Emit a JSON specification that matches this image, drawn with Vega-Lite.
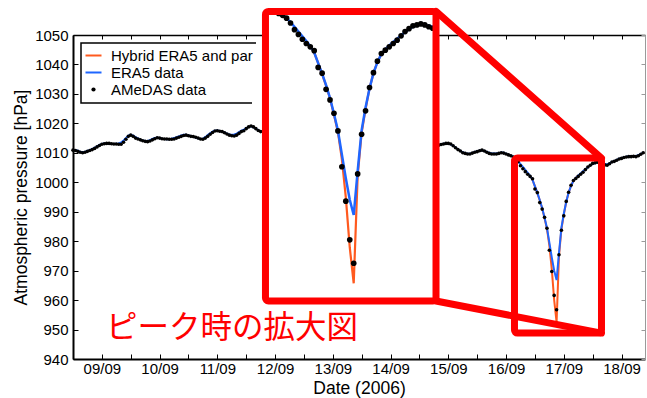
{
  "$schema": "https://vega.github.io/schema/vega-lite/v6.json",
  "width": 572,
  "height": 324,
  "autosize": {"type": "none"},
  "padding": {"left": 73, "top": 35, "right": 2, "bottom": 39},
  "background": "white",
  "config": {
    "font": "Liberation Sans",
    "view": {"stroke": null},
    "axis": {"grid": false, "labelFontSize": 15, "labelColor": "black", "titleFontSize": 17.5, "titleFontWeight": "normal", "titleColor": "black", "tickColor": "black", "domainColor": "black"}
  },
  "data": {
    "format": {"parse": {"t": "date"}},
    "values": [
      {"t":"2006-09-09T00:00","o":1010.9,"e":1011.0},{"t":"2006-09-09T01:00","o":1010.8,"e":1010.9},{"t":"2006-09-09T02:00","o":1010.5,"e":1010.7},{"t":"2006-09-09T03:00","o":1010.2,"e":1010.4},{"t":"2006-09-09T04:00","o":1010.0,"e":1010.3},{"t":"2006-09-09T05:00","o":1010.2,"e":1010.4},{"t":"2006-09-09T06:00","o":1010.5,"e":1010.6},{"t":"2006-09-09T07:00","o":1010.8,"e":1010.9},{"t":"2006-09-09T08:00","o":1011.1,"e":1011.3},{"t":"2006-09-09T09:00","o":1011.5,"e":1011.7},{"t":"2006-09-09T10:00","o":1012.0,"e":1012.2},{"t":"2006-09-09T11:00","o":1012.5,"e":1012.7},{"t":"2006-09-09T12:00","o":1012.9,"e":1013.0},{"t":"2006-09-09T13:00","o":1013.1,"e":1013.2},{"t":"2006-09-09T14:00","o":1013.2,"e":1013.2},{"t":"2006-09-09T15:00","o":1013.2,"e":1013.1},{"t":"2006-09-09T16:00","o":1013.1,"e":1013.0},{"t":"2006-09-09T17:00","o":1013.0,"e":1013.0},{"t":"2006-09-09T18:00","o":1013.0,"e":1013.1},{"t":"2006-09-09T19:00","o":1012.9,"e":1013.2},{"t":"2006-09-09T20:00","o":1012.9,"e":1013.5},{"t":"2006-09-09T21:00","o":1013.6,"e":1014.2},{"t":"2006-09-09T22:00","o":1014.6,"e":1015.0},{"t":"2006-09-09T23:00","o":1015.6,"e":1015.8},
      {"t":"2006-09-10T00:00","o":1016.0,"e":1016.1},{"t":"2006-09-10T01:00","o":1015.6,"e":1015.8},{"t":"2006-09-10T02:00","o":1015.0,"e":1015.3},{"t":"2006-09-10T03:00","o":1014.7,"e":1014.9},{"t":"2006-09-10T04:00","o":1014.4,"e":1014.5},{"t":"2006-09-10T05:00","o":1014.1,"e":1014.2},{"t":"2006-09-10T06:00","o":1013.9,"e":1014.0},{"t":"2006-09-10T07:00","o":1013.8,"e":1014.0},{"t":"2006-09-10T08:00","o":1014.0,"e":1014.3},{"t":"2006-09-10T09:00","o":1014.4,"e":1014.7},{"t":"2006-09-10T10:00","o":1014.8,"e":1015.0},{"t":"2006-09-10T11:00","o":1015.1,"e":1015.1},{"t":"2006-09-10T12:00","o":1015.0,"e":1015.0},{"t":"2006-09-10T13:00","o":1014.8,"e":1014.8},{"t":"2006-09-10T14:00","o":1014.7,"e":1014.7},{"t":"2006-09-10T15:00","o":1014.7,"e":1014.6},{"t":"2006-09-10T16:00","o":1014.6,"e":1014.6},{"t":"2006-09-10T17:00","o":1014.6,"e":1014.8},{"t":"2006-09-10T18:00","o":1014.7,"e":1015.0},{"t":"2006-09-10T19:00","o":1015.0,"e":1015.3},{"t":"2006-09-10T20:00","o":1015.3,"e":1015.6},{"t":"2006-09-10T21:00","o":1015.6,"e":1015.9},{"t":"2006-09-10T22:00","o":1015.9,"e":1016.1},{"t":"2006-09-10T23:00","o":1016.0,"e":1016.1},
      {"t":"2006-09-11T00:00","o":1015.8,"e":1015.9},{"t":"2006-09-11T01:00","o":1015.6,"e":1015.7},{"t":"2006-09-11T02:00","o":1015.5,"e":1015.5},{"t":"2006-09-11T03:00","o":1015.3,"e":1015.2},{"t":"2006-09-11T04:00","o":1015.0,"e":1014.9},{"t":"2006-09-11T05:00","o":1014.7,"e":1014.7},{"t":"2006-09-11T06:00","o":1014.6,"e":1014.8},{"t":"2006-09-11T07:00","o":1015.0,"e":1015.3},{"t":"2006-09-11T08:00","o":1015.6,"e":1016.0},{"t":"2006-09-11T09:00","o":1016.3,"e":1016.6},{"t":"2006-09-11T10:00","o":1016.9,"e":1017.2},{"t":"2006-09-11T11:00","o":1017.4,"e":1017.5},{"t":"2006-09-11T12:00","o":1017.5,"e":1017.6},{"t":"2006-09-11T13:00","o":1017.3,"e":1017.4},{"t":"2006-09-11T14:00","o":1017.2,"e":1017.2},{"t":"2006-09-11T15:00","o":1016.8,"e":1016.9},{"t":"2006-09-11T16:00","o":1016.4,"e":1016.5},{"t":"2006-09-11T17:00","o":1016.0,"e":1016.2},{"t":"2006-09-11T18:00","o":1015.8,"e":1016.1},{"t":"2006-09-11T19:00","o":1015.7,"e":1016.2},{"t":"2006-09-11T20:00","o":1016.0,"e":1016.5},{"t":"2006-09-11T21:00","o":1016.6,"e":1017.0},{"t":"2006-09-11T22:00","o":1017.2,"e":1017.5},{"t":"2006-09-11T23:00","o":1017.5,"e":1017.9},
      {"t":"2006-09-12T00:00","o":1018.2,"e":1018.4},{"t":"2006-09-12T01:00","o":1018.8,"e":1018.8},{"t":"2006-09-12T02:00","o":1019.1,"e":1019.0},{"t":"2006-09-12T03:00","o":1018.8,"e":1018.7},{"t":"2006-09-12T04:00","o":1018.2,"e":1018.2},{"t":"2006-09-12T05:00","o":1017.6,"e":1017.7},{"t":"2006-09-12T06:00","o":1017.2,"e":1017.3},{"t":"2006-09-12T09:00","o":1016.8,"e":1016.9},{"t":"2006-09-12T12:00","o":1016.4,"e":1016.5},{"t":"2006-09-12T15:00","o":1016.0,"e":1016.1},{"t":"2006-09-12T18:00","o":1015.8,"e":1015.9},{"t":"2006-09-12T21:00","o":1015.5,"e":1015.6},
      {"t":"2006-09-13T00:00","o":1015.3,"e":1015.4},{"t":"2006-09-13T03:00","o":1015.0,"e":1015.1},{"t":"2006-09-13T06:00","o":1014.8,"e":1014.9},{"t":"2006-09-13T09:00","o":1014.6,"e":1014.7},{"t":"2006-09-13T12:00","o":1014.4,"e":1014.5},{"t":"2006-09-13T15:00","o":1014.2,"e":1014.3},{"t":"2006-09-13T18:00","o":1014.0,"e":1014.1},{"t":"2006-09-13T21:00","o":1013.8,"e":1013.9},
      {"t":"2006-09-14T00:00","o":1013.6,"e":1013.7},{"t":"2006-09-14T03:00","o":1013.5,"e":1013.6},{"t":"2006-09-14T06:00","o":1013.3,"e":1013.4},{"t":"2006-09-14T09:00","o":1013.2,"e":1013.3},{"t":"2006-09-14T12:00","o":1013.0,"e":1013.1},{"t":"2006-09-14T15:00","o":1012.9,"e":1013.0},{"t":"2006-09-14T18:00","o":1012.8,"e":1012.9},{"t":"2006-09-14T21:00","o":1012.7,"e":1012.8},
      {"t":"2006-09-15T00:00","o":1012.7,"e":1012.8},{"t":"2006-09-15T03:00","o":1012.6,"e":1012.7},{"t":"2006-09-15T06:00","o":1012.6,"e":1012.7},{"t":"2006-09-15T07:00","o":1012.5,"e":1012.6},{"t":"2006-09-15T08:00","o":1012.6,"e":1012.7},{"t":"2006-09-15T09:00","o":1012.8,"e":1012.9},{"t":"2006-09-15T10:00","o":1013.0,"e":1013.1},{"t":"2006-09-15T11:00","o":1013.2,"e":1013.2},{"t":"2006-09-15T12:00","o":1013.2,"e":1013.1},{"t":"2006-09-15T13:00","o":1013.0,"e":1012.9},{"t":"2006-09-15T14:00","o":1012.4,"e":1012.4},{"t":"2006-09-15T15:00","o":1011.7,"e":1011.8},{"t":"2006-09-15T16:00","o":1011.1,"e":1011.2},{"t":"2006-09-15T17:00","o":1010.6,"e":1010.7},{"t":"2006-09-15T18:00","o":1010.0,"e":1010.2},{"t":"2006-09-15T19:00","o":1009.8,"e":1009.9},{"t":"2006-09-15T20:00","o":1009.6,"e":1009.7},{"t":"2006-09-15T21:00","o":1009.6,"e":1009.7},{"t":"2006-09-15T22:00","o":1009.9,"e":1010.0},{"t":"2006-09-15T23:00","o":1010.2,"e":1010.3},
      {"t":"2006-09-16T00:00","o":1010.4,"e":1010.5},{"t":"2006-09-16T01:00","o":1010.7,"e":1010.8},{"t":"2006-09-16T02:00","o":1010.9,"e":1010.9},{"t":"2006-09-16T03:00","o":1010.6,"e":1010.6},{"t":"2006-09-16T04:00","o":1010.2,"e":1010.3},{"t":"2006-09-16T05:00","o":1009.8,"e":1010.0},{"t":"2006-09-16T06:00","o":1009.6,"e":1009.8},{"t":"2006-09-16T07:00","o":1009.6,"e":1009.8},{"t":"2006-09-16T08:00","o":1009.6,"e":1009.8},{"t":"2006-09-16T09:00","o":1009.8,"e":1009.9},{"t":"2006-09-16T10:00","o":1010.0,"e":1010.1},{"t":"2006-09-16T11:00","o":1009.9,"e":1010.0},{"t":"2006-09-16T12:00","o":1009.6,"e":1009.7},{"t":"2006-09-16T13:00","o":1009.3,"e":1009.4},{"t":"2006-09-16T14:00","o":1009.0,"e":1009.1},{"t":"2006-09-16T15:00","o":1008.6,"e":1008.6},{"t":"2006-09-16T16:00","o":1008.0,"e":1008.0},{"t":"2006-09-16T17:00","o":1007.0,"e":1007.2},{"t":"2006-09-16T18:00","o":1005.6,"e":1006.2},{"t":"2006-09-16T19:00","o":1004.6,"e":1005.2},{"t":"2006-09-16T20:00","o":1003.6,"e":1004.2},{"t":"2006-09-16T21:00","o":1002.7,"e":1003.2},{"t":"2006-09-16T22:00","o":1002.0,"e":1002.2,"h":1002.2},{"t":"2006-09-16T23:00","o":1001.2,"e":1000.8,"h":1000.8},
      {"t":"2006-09-17T00:00","o":997.7,"e":998.6,"h":998.6},{"t":"2006-09-17T01:00","o":996.5,"e":996.4,"h":996.3},{"t":"2006-09-17T02:00","o":993.1,"e":994.0,"h":993.9},{"t":"2006-09-17T03:00","o":990.9,"e":991.3,"h":991.2},{"t":"2006-09-17T04:00","o":988.1,"e":988.0,"h":987.8},{"t":"2006-09-17T05:00","o":984.4,"e":984.5,"h":984.2},{"t":"2006-09-17T06:00","o":976.9,"e":979.5,"h":978.5},{"t":"2006-09-17T07:00","o":969.7,"e":974.5,"h":970.5},{"t":"2006-09-17T08:00","o":961.6,"e":970.0,"h":960.0},{"t":"2006-09-17T09:00","o":956.7,"e":966.8,"h":952.5},{"t":"2006-09-17T10:00","o":975.4,"e":976.0,"h":975.0},{"t":"2006-09-17T11:00","o":983.7,"e":984.5,"h":984.0},{"t":"2006-09-17T12:00","o":988.6,"e":989.3,"h":989.0},{"t":"2006-09-17T13:00","o":993.5,"e":993.3,"h":993.3},{"t":"2006-09-17T14:00","o":996.6,"e":996.5,"h":996.5},{"t":"2006-09-17T15:00","o":999.0,"e":998.8,"h":998.8},{"t":"2006-09-17T16:00","o":1000.6,"e":1000.5,"h":1000.5},{"t":"2006-09-17T17:00","o":1001.3,"e":1001.5,"h":1001.5},{"t":"2006-09-17T18:00","o":1002.0,"e":1002.3,"h":1002.3},{"t":"2006-09-17T19:00","o":1002.7,"e":1003.0},{"t":"2006-09-17T20:00","o":1003.4,"e":1003.7},{"t":"2006-09-17T21:00","o":1004.3,"e":1004.4},{"t":"2006-09-17T22:00","o":1005.2,"e":1005.1},{"t":"2006-09-17T23:00","o":1005.8,"e":1005.7},
      {"t":"2006-09-18T00:00","o":1006.4,"e":1006.2},{"t":"2006-09-18T01:00","o":1006.6,"e":1006.5},{"t":"2006-09-18T02:00","o":1006.8,"e":1006.7},{"t":"2006-09-18T03:00","o":1006.6,"e":1006.6},{"t":"2006-09-18T04:00","o":1006.2,"e":1006.4},{"t":"2006-09-18T05:00","o":1005.9,"e":1006.2},{"t":"2006-09-18T06:00","o":1005.8,"e":1006.1},{"t":"2006-09-18T07:00","o":1006.3,"e":1006.4},{"t":"2006-09-18T08:00","o":1006.9,"e":1006.9},{"t":"2006-09-18T09:00","o":1007.1,"e":1007.2},{"t":"2006-09-18T10:00","o":1007.5,"e":1007.6},{"t":"2006-09-18T11:00","o":1007.9,"e":1008.0},{"t":"2006-09-18T12:00","o":1008.1,"e":1008.2},{"t":"2006-09-18T13:00","o":1008.4,"e":1008.5},{"t":"2006-09-18T14:00","o":1008.6,"e":1008.7},{"t":"2006-09-18T15:00","o":1008.7,"e":1008.8},{"t":"2006-09-18T16:00","o":1008.7,"e":1008.8},{"t":"2006-09-18T17:00","o":1008.8,"e":1008.9},{"t":"2006-09-18T18:00","o":1008.7,"e":1008.9},{"t":"2006-09-18T19:00","o":1009.0,"e":1009.2},{"t":"2006-09-18T20:00","o":1009.5,"e":1009.6},{"t":"2006-09-18T21:00","o":1010.0,"e":1010.1}
    ]
  },
  "layer": [
    {
      "layer": [
        {
          "mark": {"type": "line", "strokeWidth": 2},
          "encoding": {
            "x": {"field": "t", "type": "temporal", "title": "Date (2006)",
              "scale": {"domain": [{"year": 2006, "month": 9, "date": 9, "hours": 0}, {"year": 2006, "month": 9, "date": 18, "hours": 21, "minutes": 45}], "nice": false},
              "axis": {"orient": "bottom", "tickSize": -5, "labelPadding": 7, "domainWidth": 2, "tickWidth": 1, "titlePadding": 3,
                "values": [
                  {"year":2006,"month":9,"date":9,"hours":0},{"year":2006,"month":9,"date":9,"hours":12},
                  {"year":2006,"month":9,"date":10,"hours":0},{"year":2006,"month":9,"date":10,"hours":12},
                  {"year":2006,"month":9,"date":11,"hours":0},{"year":2006,"month":9,"date":11,"hours":12},
                  {"year":2006,"month":9,"date":12,"hours":0},{"year":2006,"month":9,"date":12,"hours":12},
                  {"year":2006,"month":9,"date":13,"hours":0},{"year":2006,"month":9,"date":13,"hours":12},
                  {"year":2006,"month":9,"date":14,"hours":0},{"year":2006,"month":9,"date":14,"hours":12},
                  {"year":2006,"month":9,"date":15,"hours":0},{"year":2006,"month":9,"date":15,"hours":12},
                  {"year":2006,"month":9,"date":16,"hours":0},{"year":2006,"month":9,"date":16,"hours":12},
                  {"year":2006,"month":9,"date":17,"hours":0},{"year":2006,"month":9,"date":17,"hours":12},
                  {"year":2006,"month":9,"date":18,"hours":0},{"year":2006,"month":9,"date":18,"hours":12}
                ],
                "labelExpr": "hours(datum.value) == 12 ? timeFormat(datum.value, '%d/%m') : ''"}},
            "y": {"field": "h", "type": "quantitative", "title": "Atmospheric pressure [hPa]",
              "scale": {"domain": [940, 1050], "nice": false, "zero": false},
              "axis": {"orient": "left", "tickSize": -5, "labelPadding": 10, "domainWidth": 2, "titlePadding": 4, "format": "d",
                "values": [940, 950, 960, 970, 980, 990, 1000, 1010, 1020, 1030, 1040, 1050]}},
            "color": {"datum": "Hybrid ERA5 and parametric model",
              "scale": {"domain": ["Hybrid ERA5 and parametric model", "ERA5 data", "AMeDAS data"], "range": ["#ff5a1f", "#1f66ff", "#000000"]},
              "legend": {"title": null, "orient": "top-left", "offset": 8, "padding": 5,
                "strokeColor": "black", "fillColor": "white", "cornerRadius": 0,
                "labelFontSize": 15, "labelColor": "black", "labelOffset": 10, "labelLimit": 144,
                "symbolSize": 256, "symbolType": "stroke", "symbolStrokeWidth": 2, "rowPadding": 1,
                "encode": {
                  "legend": {"update": {"strokeWidth": {"value": 1.5}, "strokeDash": {"value": [175, 68, 2000]}}},
                  "labels": {"update": {"ellipsis": {"value": "\u200b"}}},
                  "symbols": {"update": {
                    "shape": {"signal": "datum.value == 'AMeDAS data' ? 'circle' : 'stroke'"},
                    "size": {"signal": "datum.value == 'AMeDAS data' ? 18 : 256"},
                    "strokeWidth": {"signal": "datum.value == 'AMeDAS data' ? 0 : 2"},
                    "fill": {"signal": "datum.value == 'AMeDAS data' ? 'black' : 'transparent'"},
                    "stroke": {"signal": "scale('color', datum.value)"},
                    "opacity": {"value": 1}
                  }}
                }}}
          }
        },
        {
          "mark": {"type": "line", "strokeWidth": 2},
          "encoding": {
            "x": {"field": "t", "type": "temporal", "axis": null},
            "y": {"field": "e", "type": "quantitative", "axis": null},
            "color": {"datum": "ERA5 data"}
          }
        },
        {
          "mark": {"type": "point", "filled": true, "size": 13, "opacity": 1},
          "encoding": {
            "x": {"field": "t", "type": "temporal", "axis": null},
            "y": {"field": "o", "type": "quantitative", "axis": null},
            "color": {"datum": "AMeDAS data"}
          }
        },
        {
          "data": {"values": [{"x1": "2006-09-12T08:00", "x2": "2006-09-15T06:53", "p1": 959.7, "p2": 1058.0}]},
          "mark": {"type": "rect", "fill": "white", "cornerRadius": 3},
          "encoding": {
            "x": {"field": "x1", "type": "temporal", "title": null,
              "axis": {"orient": "top", "labels": false, "tickSize": -4, "domainWidth": 1.5,
                "values": [
                  {"year":2006,"month":9,"date":9,"hours":0},{"year":2006,"month":9,"date":9,"hours":12},
                  {"year":2006,"month":9,"date":10,"hours":0},{"year":2006,"month":9,"date":10,"hours":12},
                  {"year":2006,"month":9,"date":11,"hours":0},{"year":2006,"month":9,"date":11,"hours":12},
                  {"year":2006,"month":9,"date":12,"hours":0},{"year":2006,"month":9,"date":12,"hours":12},
                  {"year":2006,"month":9,"date":13,"hours":0},{"year":2006,"month":9,"date":13,"hours":12},
                  {"year":2006,"month":9,"date":14,"hours":0},{"year":2006,"month":9,"date":14,"hours":12},
                  {"year":2006,"month":9,"date":15,"hours":0},{"year":2006,"month":9,"date":15,"hours":12},
                  {"year":2006,"month":9,"date":16,"hours":0},{"year":2006,"month":9,"date":16,"hours":12},
                  {"year":2006,"month":9,"date":17,"hours":0},{"year":2006,"month":9,"date":17,"hours":12},
                  {"year":2006,"month":9,"date":18,"hours":0},{"year":2006,"month":9,"date":18,"hours":12}
                ]}},
            "x2": {"field": "x2"},
            "y": {"field": "p1", "type": "quantitative", "title": null,
              "axis": {"orient": "right", "labels": false, "tickSize": -4, "domainColor": "#9a9a9a", "tickColor": "#9a9a9a", "domainWidth": 1,
                "values": [940, 950, 960, 970, 980, 990, 1000, 1010, 1020, 1030, 1040, 1050]}},
            "y2": {"field": "p2"}
          }
        },
        {
          "data": {"values": [{"tx": "2006-09-09T13:40", "ty": 950.2, "label": "ピーク時の拡大図"}]},
          "mark": {"type": "text", "align": "left", "baseline": "middle", "font": "Noto Sans CJK JP", "fontSize": 31.5, "color": "#ff0000"},
          "encoding": {
            "x": {"field": "tx", "type": "temporal", "axis": null},
            "y": {"field": "ty", "type": "quantitative", "axis": null},
            "text": {"field": "label"}
          }
        }
      ],
      "resolve": {"axis": {"x": "independent", "y": "independent"}}
    },
    {
      "transform": [{"filter": {"field": "t", "range": [{"year": 2006, "month": 9, "date": 16, "hours": 14}, {"year": 2006, "month": 9, "date": 18, "hours": 5}]}}],
      "encoding": {
        "x": {"field": "t", "type": "temporal", "axis": null,
          "scale": {"domain": [{"year": 2006, "month": 9, "date": 16, "hours": 10, "minutes": 40}, {"year": 2006, "month": 9, "date": 18, "hours": 5, "minutes": 50}], "range": [192.5, 363], "nice": false}}
      },
      "layer": [
        {
          "mark": {"type": "line", "strokeWidth": 2.2},
          "encoding": {
            "y": {"field": "h", "type": "quantitative", "axis": null, "scale": {"domain": [948.8, 1009.4], "range": [266, -23.5], "nice": false, "zero": false}},
            "color": {"datum": "Hybrid ERA5 and parametric model"}
          }
        },
        {
          "mark": {"type": "line", "strokeWidth": 2.5},
          "encoding": {
            "y": {"field": "e", "type": "quantitative", "axis": null},
            "color": {"datum": "ERA5 data"}
          }
        },
        {
          "mark": {"type": "point", "filled": true, "size": 32, "opacity": 1},
          "encoding": {
            "y": {"field": "o", "type": "quantitative", "axis": null},
            "color": {"datum": "AMeDAS data"}
          }
        }
      ]
    },
    {
      "layer": [
        {
          "data": {"values": [
            {"x1": "2006-09-12T08:00", "x2": "2006-09-15T06:53", "p1": 959.7, "p2": 1058.0},
            {"x1": "2006-09-16T15:30", "x2": "2006-09-18T03:40", "p1": 948.8, "p2": 1008.2}
          ]},
          "mark": {"type": "rect", "fillOpacity": 0, "stroke": "#ff0000", "strokeWidth": 7, "cornerRadius": 3},
          "encoding": {
            "x": {"field": "x1", "type": "temporal", "axis": null,
              "scale": {"domain": [{"year": 2006, "month": 9, "date": 9, "hours": 0}, {"year": 2006, "month": 9, "date": 18, "hours": 21, "minutes": 45}], "nice": false}},
            "x2": {"field": "x2"},
            "y": {"field": "p1", "type": "quantitative", "axis": null, "scale": {"domain": [940, 1050], "nice": false, "zero": false}},
            "y2": {"field": "p2"}
          }
        },
        {
          "data": {"values": [
            {"x1": "2006-09-15T06:53", "x2": "2006-09-18T03:40", "p1": 1058.0, "p2": 1008.2},
            {"x1": "2006-09-15T06:53", "x2": "2006-09-18T03:40", "p1": 959.7, "p2": 948.8}
          ]},
          "mark": {"type": "rule", "color": "#ff0000", "strokeWidth": 7, "strokeCap": "round"},
          "encoding": {
            "x": {"field": "x1", "type": "temporal", "axis": null},
            "x2": {"field": "x2"},
            "y": {"field": "p1", "type": "quantitative", "axis": null},
            "y2": {"field": "p2"}
          }
        }
      ]
    }
  ],
  "resolve": {"scale": {"x": "independent", "y": "independent"}}
}
